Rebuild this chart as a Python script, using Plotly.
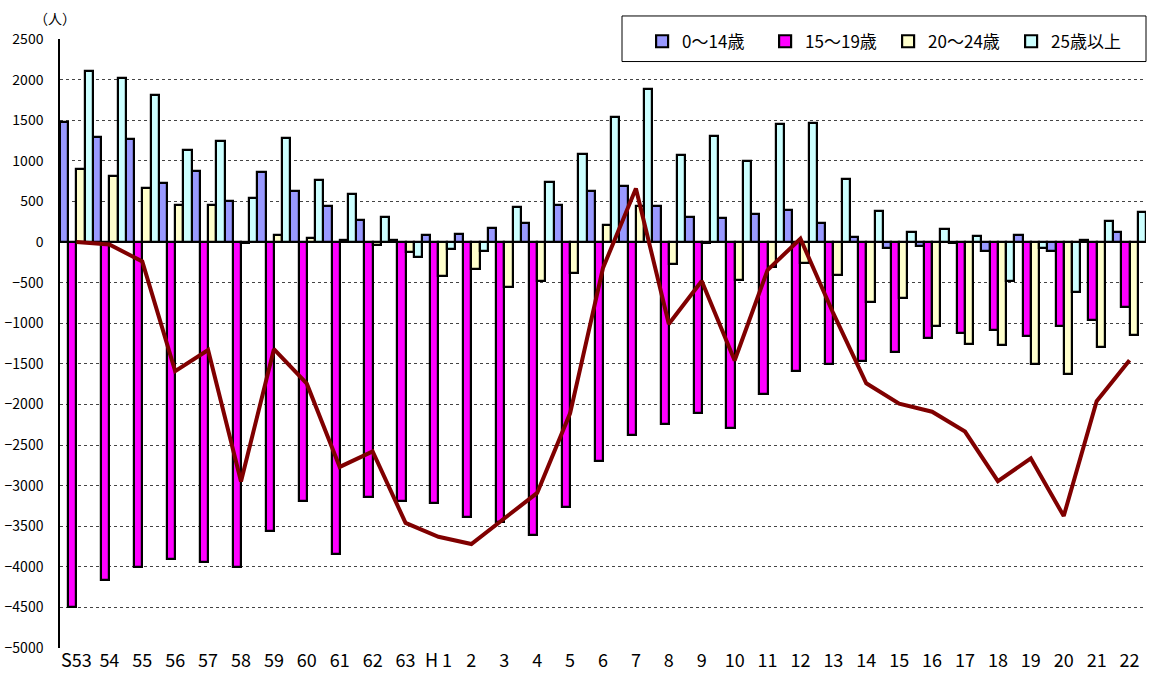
import plotly.graph_objects as go

categories = ["S53", "54", "55", "56", "57", "58", "59", "60", "61", "62", "63",
              "H 1", "2", "3", "4", "5", "6", "7", "8", "9", "10", "11", "12",
              "13", "14", "15", "16", "17", "18", "19", "20", "21", "22"]

age_0_14 = [1480, 1290, 1270, 730, 880, 510, 860, 630, 445, 275, 30,
            90, 100, 170, 230, 450, 630, 690, 440, 310, 300, 340, 395,
            240, 60, -70, -45, -10, -105, 90, -105, 20, 125]

age_15_19 = [-4500, -4160, -4000, -3910, -3945, -4000, -3560, -3195, -3845, -3145, -3195,
             -3220, -3390, -3445, -3605, -3265, -2700, -2380, -2245, -2110, -2290, -1875, -1590,
             -1500, -1460, -1350, -1180, -1125, -1085, -1160, -1040, -955, -805]

age_20_24 = [900, 810, 665, 455, 460, -10, 85, 45, 30, -40, -125,
             -415, -335, -555, -480, -385, 205, 445, -275, -10, -470, -305, -260,
             -410, -740, -695, -1035, -1260, -1265, -1505, -1620, -1290, -1145]

age_25_plus = [2105, 2015, 1810, 1130, 1250, 540, 1285, 765, 587, 310, -190,
               -90, -105, 425, 735, 1085, 1535, 1890, 1068, 1305, 1000, 1455, 1470,
               776, 386, 123, 160, 78, -476, -78, -612, 263, 373]

total = [0, -30, -240, -1590, -1330, -2950, -1320, -1745, -2770, -2580, -3460,
         -3630, -3720, -3410, -3090, -2110, -320, 660, -1010, -480, -1460, -345, 40,
         -880, -1740, -1990, -2090, -2335, -2945, -2665, -3375, -1960, -1455]

series_names = ["0～14歳", "15～19歳", "20～24歳", "25歳以上"]
series_values = [age_0_14, age_15_19, age_20_24, age_25_plus]
series_colors = ["#9999FF", "#FF00FF", "#FFFFCC", "#CCFFFF"]

FONT = "Noto Sans CJK JP"

fig = go.Figure()
for name, vals, col in zip(series_names, series_values, series_colors):
    fig.add_trace(go.Bar(
        x=categories, y=vals, name=name,
        marker=dict(color=col, line=dict(color="black", width=2.2)),
    ))

fig.add_trace(go.Scatter(
    x=categories, y=total, mode="lines", showlegend=False,
    line=dict(color="#800000", width=4),
))

fig.update_layout(
    width=1149, height=684, autosize=False,
    margin=dict(l=60, r=3, t=39, b=36, autoexpand=False),
    paper_bgcolor="white", plot_bgcolor="white",
    barmode="group", bargap=0, bargroupgap=0,
    font=dict(family=FONT, color="black"),
    legend=dict(
        orientation="h", x=0.536, xanchor="left", y=0.9956, yanchor="middle",
        bgcolor="rgba(0,0,0,0)", borderwidth=0,
        font=dict(family=FONT, size=17, color="black"),
        entrywidth=78, traceorder="normal",
    ),
    shapes=[dict(
        type="rect", xref="paper", yref="paper",
        x0=0.5175, x1=1.0, y0=0.963, y1=1.0378,
        line=dict(color="black", width=1), fillcolor="white", layer="above",
    )],
    annotations=[dict(
        text="（人）", xref="paper", yref="paper", x=0, y=1,
        xanchor="center", yanchor="middle", xshift=-5, yshift=21,
        showarrow=False, font=dict(family=FONT, size=14, color="black"),
    )],
)

fig.update_xaxes(
    type="category", showgrid=False, showline=False, ticks="",
    tickangle=0, tickfont=dict(family=FONT, size=18, color="black"),
    zeroline=False, automargin=False,
)
fig.update_yaxes(
    range=[-5000, 2500], tick0=0, dtick=500,
    showgrid=True, griddash="dot", gridcolor="#444444", gridwidth=1,
    zeroline=True, zerolinecolor="black", zerolinewidth=2,
    showline=True, linecolor="black", linewidth=1.5,
    ticks="", ticklabelstandoff=12, automargin=False,
    tickfont=dict(family=FONT, size=14, color="black"),
)

fig.write_html(
    "out.html",
    config={"displayModeBar": False},
    post_script="document.body.style.margin='0';document.body.style.padding='0';",
)
